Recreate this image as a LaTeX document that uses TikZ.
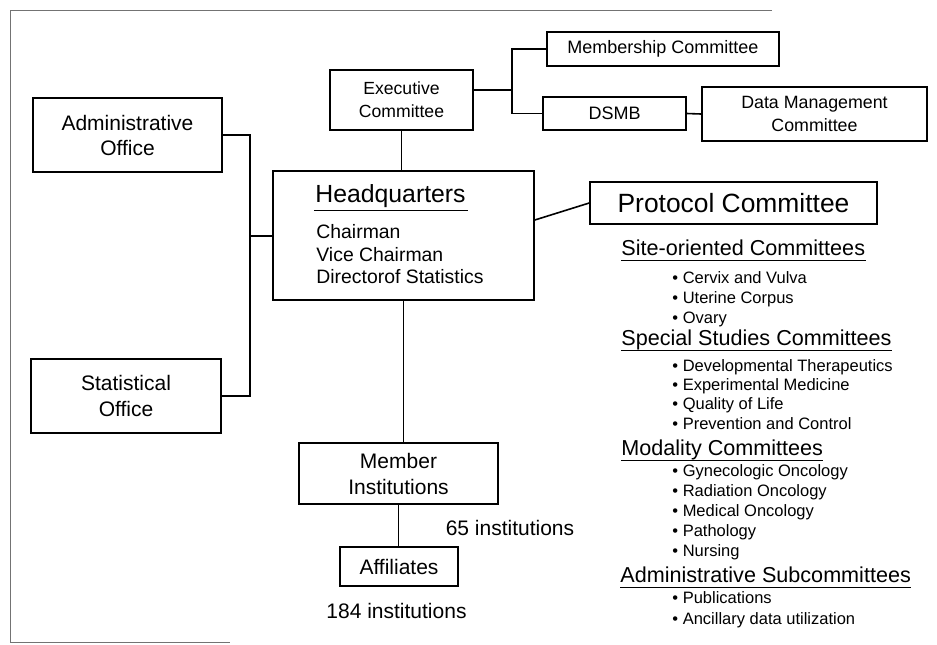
\documentclass[tikz,border=0pt]{standalone}
\usepackage{fontspec}
\setmainfont{Liberation Sans}
\usetikzlibrary{positioning}

\begin{document}
\begin{tikzpicture}[x=0.5pt,y=-0.5pt,
    box/.style={draw,line width=0.8pt,inner sep=0pt,align=center},
    link/.style={line width=0.8pt},
    frame/.style={draw=black!55,line width=0.5pt},
    head/.style={anchor=west,inner sep=0pt,text height=7.7pt,text depth=0pt,font=\fontsize{10.8}{13}\selectfont},
    hqline/.style={anchor=west,inner sep=0pt,text height=6.9pt,text depth=0pt,font=\fontsize{9.7}{11}\selectfont},
    bulitem/.style={anchor=west,inner sep=0pt,text height=5.9pt,text depth=0pt,font=\fontsize{8.25}{10}\selectfont}]
    \useasboundingbox (0,0) rectangle (937,644);
    % scanned frame
    \draw[frame] (772,10) -- (10,10) -- (10,642) -- (230,642);
    % boxes
    \node[box,minimum width=71.5pt,minimum height=30pt,font=\fontsize{8.8}{11.5}\selectfont] (exec) at (401.5,100) {Executive\\Committee};
    \node[box,minimum width=116pt,minimum height=17pt,font=\fontsize{9}{11}\selectfont] (memb) at (663,49) {Membership Committee};
    \node[box,minimum width=71.5pt,minimum height=16.5pt,font=\fontsize{9}{11}\selectfont] (dsmb) at (614.5,113.5) {DSMB};
    \node[box,minimum width=112.5pt,minimum height=27pt,font=\fontsize{8.9}{11.5}\selectfont] (dmc) at (814.5,114) {Data Management\\Committee};
    \node[box,minimum width=94.5pt,minimum height=37pt,font=\fontsize{10.5}{12.5}\selectfont] (adm) at (127.5,135) {Administrative\\Office};
    \node[box,minimum width=130.5pt,minimum height=64.5pt] (hq) at (403.5,235.5) {};
    \node[box,minimum width=95pt,minimum height=37pt,font=\fontsize{10.5}{13}\selectfont] (stat) at (126,396) {Statistical\\Office};
    \node[box,minimum width=143.5pt,minimum height=21pt,font=\fontsize{13.2}{15}\selectfont] (proto) at (733.5,203) {Protocol Committee};
    \node[box,minimum width=99.5pt,minimum height=30.5pt,font=\fontsize{10.5}{13}\selectfont] (mem) at (398.5,473.5) {Member\\Institutions};
    \node[box,minimum width=59pt,minimum height=19.5pt,font=\fontsize{10.5}{12}\selectfont] (aff) at (399,566.5) {Affiliates};
    \node[font=\fontsize{10.5}{12}\selectfont] (n65) at (510,528) {65 institutions};
    \node[font=\fontsize{10.5}{12}\selectfont] (n184) at (396.5,611) {184 institutions};

    % headquarters text
    \node[inner sep=0pt,text height=8.9pt,text depth=0pt,font=\fontsize{12.4}{14}\selectfont] (hqtitle) at (390.5,194) {Headquarters};
    \draw[line width=0.7pt] ([xshift=-0.5pt,yshift=-3.5pt]hqtitle.south west) -- ([xshift=1pt,yshift=-3.5pt]hqtitle.south east);
    \foreach \t [count=\i] in {Chairman, Vice Chairman, Directorof Statistics}
      \node[hqline] (hq\i) at (316,209.5+22.5*\i) {\t};

    % connectors
    \coordinate (br1) at (512,90);
    \coordinate (br2) at (250,236);
    \draw[link] (exec.east |- br1) -- (br1);
    \draw[link] (memb.west) -- (memb.west -| br1) -- (dsmb.west -| br1) -- (dsmb.west);
    \draw[link] (dsmb.east) -- (dmc.west);
    \draw[link] (exec.south) -- (exec.south |- hq.north);
    \draw[link] (adm.east) -- (adm.east -| br2) -- (stat.east -| br2) -- (stat.east);
    \draw[link] (br2) -- (hq.west |- br2);
    \draw[link] ([yshift=7.75pt]hq.east) -- (proto.west);
    \draw[link] (hq.south) -- (hq.south |- mem.north);
    \draw[link] (mem.south) -- (mem.south |- aff.north);

    % committee lists
    \node[head] (sitehd) at (621,248) {Site-oriented Committees};
    \foreach \t [count=\i] in {Cervix and Vulva, Uterine Corpus, Ovary}
      \node[bulitem] (site\i) at (672,258+20*\i) {• \t};
    \node[head] (spechd) at (621,338) {Special Studies Committees};
    \foreach \t [count=\i] in {Developmental Therapeutics, Experimental Medicine, Quality of Life, Prevention and Control}
      \node[bulitem] (spec\i) at (672,346+19.3*\i) {• \t};
    \node[head] (modhd) at (621,448) {Modality Committees};
    \foreach \t [count=\i] in {Gynecologic Oncology, Radiation Oncology, Medical Oncology, Pathology, Nursing}
      \node[bulitem] (mod\i) at (672,451+20*\i) {• \t};
    \node[head] (admhd) at (620,575) {Administrative Subcommittees};
    \foreach \t [count=\i] in {Publications, Ancillary data utilization}
      \node[bulitem] (sub\i) at (672,577.5+20.5*\i) {• \t};
    \foreach \h in {sitehd,spechd,modhd,admhd}
      \draw[line width=0.7pt] ([yshift=-2.2pt]\h.south west) -- ([yshift=-2.2pt]\h.south east);
\end{tikzpicture}
\end{document}
